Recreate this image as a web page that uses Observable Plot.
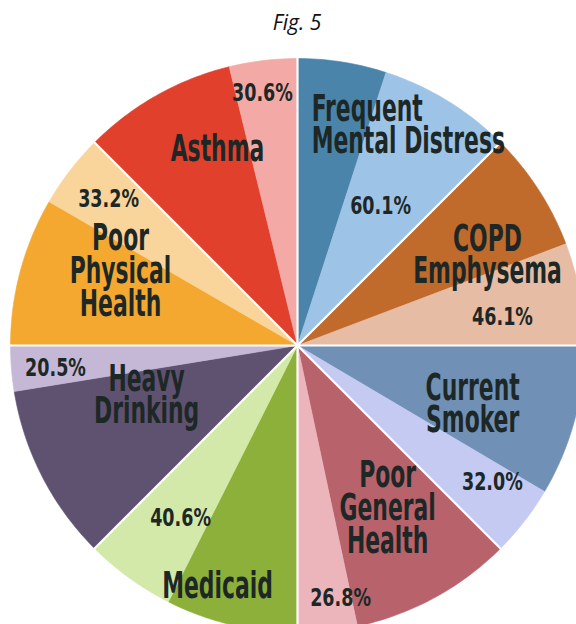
<!DOCTYPE html>
<html>
<head>
<meta charset="utf-8">
<script src="https://cdn.jsdelivr.net/npm/d3@7"></script>
<script src="https://cdn.jsdelivr.net/npm/@observablehq/plot@0.6"></script>
<style>
  html, body { margin: 0; padding: 0; background: #fff; overflow: hidden; }
  #title { width: 576px; height: 44px; line-height: 44px; box-sizing: border-box; padding-left: 18px;
           text-align: center; font-family: "Open Sans", sans-serif; font-style: italic; font-size: 21px; color: #111; }
  svg text { font-family: "DejaVu Sans Condensed", "DejaVu Sans", sans-serif; }
</style>
</head>
<body>
<div id="title">Fig. 5</div>
<div id="chart"></div>
<script>
// ---- data ----
const categories = ["Frequent\nMental Distress", "COPD\nEmphysema", "Current\nSmoker", "Poor\nGeneral\nHealth",
                    "Medicaid", "Heavy\nDrinking", "Poor\nPhysical\nHealth", "Asthma"];
const percents = [60.1, 46.1, 32.0, 26.8, 40.6, 20.5, 33.2, 30.6];
const darkColors  = ["#4a84ab", "#c06a2c", "#7090b6", "#b8626b", "#8db03a", "#5f5270", "#f5a830", "#e0402c"];
const lightColors = ["#9dc4e6", "#e7bca5", "#c4caf1", "#ecb5bc", "#d3e9a9", "#c4b8d6", "#f9d59c", "#f3aaa6"];

// ---- label layout (polar: angle clockwise from top in degrees, radius as fraction of pie radius) ----
const nameAngle  = [3.7, 64.9, 108.9, 151.2, 198.3, 251.3, 292.4, 337.7];
const nameRadius = [0.765, 0.731, 0.645, 0.652, 0.888, 0.555, 0.667, 0.735];
const pctAngle   = [30.7, 82.2, 125.1, 170.3, 214.2, 264.6, 307.7, 352.1];
const pctRadius  = [0.567, 0.721, 0.830, 0.891, 0.725, 0.847, 0.832, 0.890];

// ---- geometry ----
const W = 576, H = 580, R = 287, CX = 297, CY = 301;
const n = categories.length, step = 360 / n;
const rad = a => a * Math.PI / 180;
const px = (a, r) => r * Math.sin(rad(a));
const py = (a, r) => r * Math.cos(rad(a));

function wedge(id, a0, a1, color) {
  const pts = [{id, color, x: 0, y: 0}];
  const k = Math.max(2, Math.ceil(a1 - a0));
  for (let j = 0; j <= k; j++) {
    const a = a0 + (a1 - a0) * j / k;
    pts.push({id, color, x: px(a, 1), y: py(a, 1)});
  }
  pts.push({id, color, x: 0, y: 0});
  return pts;
}

const wedges = [];
categories.forEach((c, i) => {
  const a0 = i * step, a1 = a0 + step;
  const split = a0 + step * (1 - percents[i] / 100);
  wedges.push(...wedge(c + "-dark", a0, split, darkColors[i]));
  wedges.push(...wedge(c + "-light", split, a1, lightColors[i]));
});

const dividers = categories.map((c, i) => ({a: i * step}));

const names = categories.map((c, i) => ({
  text: c, x: px(nameAngle[i], nameRadius[i]), y: py(nameAngle[i], nameRadius[i]),
  anchor: i === 0 ? "start" : "middle"
}));
const pcts = percents.map((v, i) => ({
  text: v.toFixed(1) + "%", x: px(pctAngle[i], pctRadius[i]), y: py(pctAngle[i], pctRadius[i])
}));

const NAME_SIZE = 38, PCT_SIZE = 25;
const chart = Plot.plot({
  width: W, height: H, margin: 0,
  x: {domain: [-CX / R, (W - CX) / R], axis: null},
  y: {domain: [-(H - CY) / R, CY / R], axis: null},
  color: {type: "identity"},
  marks: [
    Plot.line(wedges, {x: "x", y: "y", z: "id", fill: "color", stroke: "color", strokeWidth: 0.6, curve: "linear", clip: true}),
    Plot.link(dividers, {x1: 0, y1: 0, x2: d => px(d.a, 1.01), y2: d => py(d.a, 1.01), stroke: "white", strokeWidth: 2.2, clip: true}),
    Plot.text(names.filter(d => d.anchor === "start"), {x: "x", y: "y", text: "text", textAnchor: "start", lineAnchor: "middle",
      fontSize: NAME_SIZE, fontWeight: "bold", fill: "#1d2826", lineHeight: 0.86}),
    Plot.text(names.filter(d => d.anchor !== "start"), {x: "x", y: "y", text: "text", textAnchor: "middle", lineAnchor: "middle",
      fontSize: NAME_SIZE, fontWeight: "bold", fill: "#1d2826", lineHeight: 0.86}),
    Plot.text(pcts, {x: "x", y: "y", text: "text", textAnchor: "middle", lineAnchor: "middle",
      fontSize: PCT_SIZE, fontWeight: "bold", fill: "#1d2826"})
  ]
});
document.getElementById("chart").appendChild(chart);

// condense the lettering horizontally (the reference uses a narrow, heavy display face):
// wrap each text in a group and squeeze it about its own anchor.
const NS = "http://www.w3.org/2000/svg";
chart.querySelectorAll("text").forEach(t => {
  const g = t.closest("g[font-size]");
  const fs = g ? +g.getAttribute("font-size") : NAME_SIZE;
  const sx = fs >= NAME_SIZE ? 0.64 : 0.78;
  const anchorStart = (t.closest("[text-anchor]") || {getAttribute: () => "middle"}).getAttribute("text-anchor") === "start";
  const wrap = document.createElementNS(NS, "g");
  t.parentNode.insertBefore(wrap, t);
  wrap.appendChild(t);
  const b = wrap.getBBox();
  const cx = anchorStart ? b.x : b.x + b.width / 2;
  wrap.setAttribute("transform", `translate(${cx},0) scale(${sx},1) translate(${-cx},0)`);
});
</script>
</body>
</html>
